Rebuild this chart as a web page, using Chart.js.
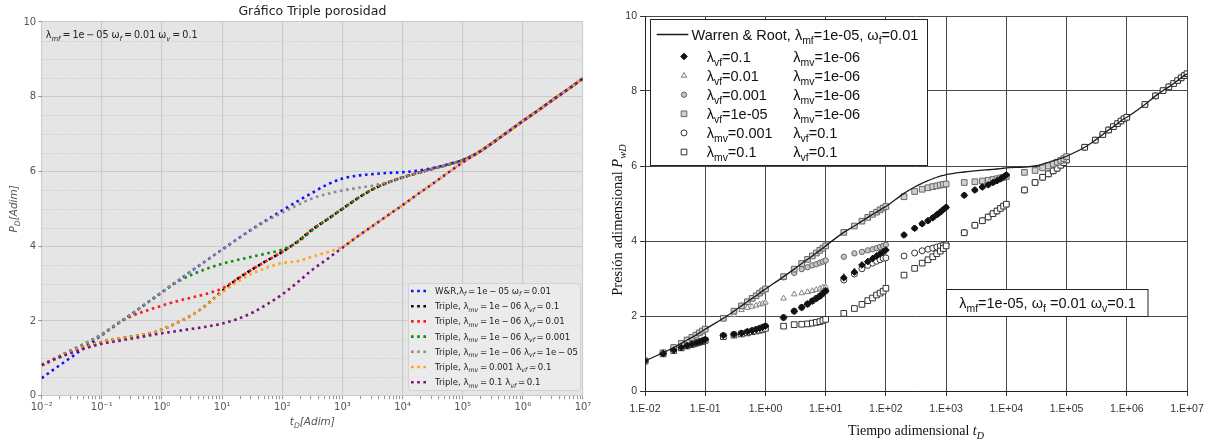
<!DOCTYPE html>
<html><head><meta charset="utf-8">
<script src="https://cdn.jsdelivr.net/npm/chart.js@4.4.1/dist/chart.umd.min.js"></script>
<style>
html,body{margin:0;padding:0;background:#fff;}
#wrap{position:relative;width:1213px;height:442px;overflow:hidden;background:#fff;}
#c1{position:absolute;left:0;top:0;width:600px;height:442px;}
#c2{position:absolute;left:600px;top:0;width:613px;height:442px;}
</style></head><body>
<div id="wrap"><canvas id="c1" width="600" height="442"></canvas><canvas id="c2" width="613" height="442"></canvas></div>
<script>
// ---------------- LEFT CHART DATA (t_D, P_D) ----------------
const leftTitle = 'Gráfico Triple porosidad';
const leftNote = 'λ_{mf}\u2009=\u20091e\u2009−\u200905 ω_{f}\u2009=\u20090.01 ω_{v}\u2009=\u20090.1';
const leftT = [0.01,0.0178,0.0316,0.0562,0.1,0.178,0.316,0.562,1,1.78,3.16,5.62,10,17.8,31.6,56.2,100,178,316,562,1000,1780,3160,5620,1e4,1.78e4,3.16e4,5.62e4,1e5,1.78e5,3.16e5,5.62e5,1e6,1.78e6,3.16e6,5.62e6,1e7];
const leftLabels = [
  'W&R,λ_{f}\u2009=\u20091e\u2009−\u200905 ω_{f}\u2009=\u20090.01',
  'Triple, λ_{mv}\u2009=\u20091e\u2009−\u200906 λ_{vf}\u2009=\u20090.1',
  'Triple, λ_{mv}\u2009=\u20091e\u2009−\u200906 λ_{vf}\u2009=\u20090.01',
  'Triple, λ_{mv}\u2009=\u20091e\u2009−\u200906 λ_{vf}\u2009=\u20090.001',
  'Triple, λ_{mv}\u2009=\u20091e\u2009−\u200906 λ_{vf}\u2009=\u20091e\u2009−\u200905',
  'Triple, λ_{mv}\u2009=\u20090.001 λ_{vf}\u2009=\u20090.1',
  'Triple, λ_{mv}\u2009=\u20090.1 λ_{vf}\u2009=\u20090.1'
];
const leftColors = ['#1010ff','#000000','#ff1a1a','#138a13','#8c8c8c','#ffa31a','#7d137d'];
const leftWR      = [0.47,0.76,1.04,1.33,1.62,1.91,2.19,2.48,2.77,3.06,3.35,3.63,3.91,4.19,4.46,4.71,4.96,5.20,5.43,5.65,5.81,5.89,5.93,5.96,5.98,6.02,6.09,6.19,6.31,6.50,6.77,7.06,7.35,7.63,7.92,8.20,8.49];
const leftMv6Vf01   = [0.82,1.00,1.17,1.32,1.44,1.52,1.58,1.65,1.77,1.95,2.16,2.44,2.80,3.12,3.38,3.62,3.85,4.12,4.45,4.72,5.00,5.28,5.52,5.70,5.84,5.96,6.07,6.18,6.30,6.50,6.77,7.06,7.35,7.63,7.92,8.20,8.49];
const leftMv6Vf001  = [0.82,1.02,1.22,1.42,1.64,1.92,2.13,2.28,2.41,2.53,2.63,2.73,2.87,3.12,3.38,3.62,3.85,4.12,4.45,4.72,5.00,5.28,5.52,5.70,5.84,5.96,6.07,6.18,6.30,6.50,6.77,7.06,7.35,7.63,7.92,8.20,8.49];
const leftMv6Vf0001 = [0.82,1.02,1.22,1.42,1.64,1.92,2.19,2.48,2.77,3.04,3.24,3.40,3.53,3.63,3.72,3.81,3.91,4.10,4.43,4.72,5.00,5.28,5.52,5.70,5.84,5.96,6.07,6.18,6.30,6.50,6.77,7.06,7.35,7.63,7.92,8.20,8.49];
const leftMv6Vf1e5  = [0.82,1.02,1.22,1.42,1.64,1.92,2.19,2.48,2.77,3.06,3.35,3.63,3.91,4.19,4.45,4.69,4.90,5.10,5.28,5.40,5.49,5.56,5.62,5.71,5.84,5.96,6.07,6.18,6.30,6.50,6.77,7.06,7.35,7.63,7.92,8.20,8.49];
const leftMv0001Vf01= [0.82,1.00,1.17,1.32,1.44,1.52,1.58,1.65,1.77,1.95,2.16,2.44,2.76,3.04,3.27,3.43,3.55,3.60,3.72,3.84,3.98,4.26,4.54,4.82,5.10,5.39,5.67,5.96,6.24,6.50,6.77,7.06,7.35,7.63,7.92,8.20,8.49];
const leftMv01Vf01  = [0.82,1.00,1.15,1.28,1.39,1.46,1.53,1.60,1.67,1.73,1.79,1.85,1.93,2.05,2.22,2.45,2.71,3.03,3.37,3.66,3.96,4.26,4.54,4.82,5.10,5.39,5.67,5.96,6.24,6.50,6.77,7.06,7.35,7.63,7.92,8.20,8.49];
const leftSeries = [leftWR,leftMv6Vf01,leftMv6Vf001,leftMv6Vf0001,leftMv6Vf1e5,leftMv0001Vf01,leftMv01Vf01];
const leftYTicks = [0,2,4,6,8,10];

// ---------------- RIGHT CHART DATA (t_D, P_wD) ----------------
const rightT = [0.01,0.02,0.03,0.04,0.05,0.06,0.07,0.08,0.09,
  0.1,0.2,0.3,0.4,0.5,0.6,0.7,0.8,0.9,
  1,2,3,4,5,6,7,8,9,
  10,20,30,40,50,60,70,80,90,
  100,200,300,400,500,600,700,800,900,
  1e3,2e3,3e3,4e3,5e3,6e3,7e3,8e3,9e3,
  1e4,2e4,3e4,4e4,5e4,6e4,7e4,8e4,9e4,
  1e5,2e5,3e5,4e5,5e5,6e5,7e5,8e5,9e5,
  1e6,2e6,3e6,4e6,5e6,6e6,7e6,8e6,9e6,
  1e7];
const rightWR = [0.80,1.02,1.16,1.27,1.36,1.43,1.49,1.55,1.60,
  1.65,1.94,2.13,2.27,2.38,2.47,2.54,2.61,2.67,
  2.72,3.05,3.25,3.40,3.51,3.60,3.68,3.75,3.81,
  3.87,4.23,4.40,4.53,4.63,4.71,4.77,4.83,4.88,
  4.92,5.27,5.44,5.54,5.61,5.66,5.70,5.73,5.75,
  5.77,5.84,5.87,5.89,5.90,5.91,5.92,5.93,5.94,
  5.95,5.97,6.00,6.05,6.10,6.14,6.17,6.20,6.23,
  6.26,6.50,6.69,6.84,6.96,7.05,7.13,7.20,7.26,
  7.30,7.64,7.87,8.01,8.11,8.20,8.28,8.35,8.41,
  8.46];
const rightVf01 = [0.80,1.00,1.09,1.16,1.21,1.25,1.28,1.31,1.34,
  1.37,1.48,1.51,1.54,1.58,1.61,1.64,1.67,1.70,
  1.73,1.96,2.13,2.23,2.32,2.40,2.47,2.53,2.60,
  2.67,3.02,3.17,3.36,3.45,3.53,3.60,3.66,3.71,
  3.76,4.16,4.34,4.46,4.54,4.62,4.70,4.77,4.84,
  4.90,5.22,5.36,5.44,5.50,5.56,5.61,5.66,5.71,
  5.76,null,null,null,null,null,null,null,null,
  null,null,null,null,null,null,null,null,null,
  null,null,null,null,null,null,null,null,null,
  null];
const rightVf001 = [0.80,1.02,1.16,1.27,1.36,1.43,1.49,1.55,1.60,
  1.65,1.94,2.03,2.16,2.22,2.25,2.28,2.31,2.33,
  2.36,2.47,2.58,2.61,2.64,2.67,2.70,2.73,2.76,
  2.78,3.05,3.20,3.36,3.46,3.54,3.61,3.67,3.72,
  3.77,4.16,4.34,4.46,4.54,4.62,4.70,4.77,4.84,
  4.90,5.22,5.36,5.44,5.50,5.56,5.61,5.66,5.71,
  5.76,null,null,null,null,null,null,null,null,
  null,null,null,null,null,null,null,null,null,
  null,null,null,null,null,null,null,null,null,
  null];
const rightVf0001 = [0.80,1.02,1.16,1.27,1.36,1.43,1.49,1.55,1.60,
  1.65,1.94,2.13,2.27,2.38,2.47,2.54,2.61,2.67,
  2.72,3.03,3.15,3.25,3.30,3.35,3.38,3.42,3.45,
  3.48,3.58,3.67,3.71,3.75,3.78,3.81,3.84,3.87,
  3.90,4.16,4.34,4.46,4.54,4.62,4.70,4.77,4.84,
  4.90,5.22,5.36,5.44,5.50,5.56,5.61,5.66,5.71,
  5.76,null,null,null,null,null,null,null,null,
  null,null,null,null,null,null,null,null,null,
  null,null,null,null,null,null,null,null,null,
  null];
const rightVf1e5 = [0.80,1.02,1.16,1.27,1.36,1.43,1.49,1.55,1.60,
  1.65,1.94,2.13,2.27,2.38,2.47,2.54,2.61,2.67,
  2.72,3.05,3.25,3.40,3.51,3.60,3.68,3.75,3.81,
  3.87,4.23,4.40,4.53,4.63,4.71,4.77,4.83,4.88,
  4.92,5.18,5.32,5.38,5.42,5.45,5.47,5.49,5.51,
  5.52,5.56,5.58,5.60,5.62,5.64,5.66,5.68,5.70,
  5.72,5.83,5.88,5.95,6.00,6.05,6.10,6.15,6.20,
  6.25,null,null,null,null,null,null,null,null,
  null,null,null,null,null,null,null,null,null,
  null];
const rightMv0001 = [0.80,1.00,1.09,1.16,1.21,1.25,1.28,1.31,1.34,
  1.37,1.48,1.51,1.54,1.58,1.61,1.64,1.67,1.70,
  1.73,1.96,2.13,2.23,2.32,2.40,2.47,2.53,2.60,
  2.67,2.96,3.12,3.26,3.35,3.41,3.46,3.50,3.54,
  3.55,3.60,3.68,3.74,3.78,3.81,3.84,3.87,3.89,
  3.91,4.22,4.42,4.54,4.64,4.73,4.80,4.87,4.93,
  4.98,5.36,5.56,5.70,5.79,5.87,5.94,6.02,6.09,
  6.16,6.50,6.69,6.84,6.96,7.05,7.13,7.20,7.26,
  7.30,7.64,7.87,8.01,8.11,8.20,8.28,8.35,8.41,
  8.46];
const rightMv01 = [0.80,0.99,1.08,1.15,1.20,1.24,1.27,1.30,1.32,
  1.35,1.45,1.49,1.52,1.55,1.58,1.60,1.62,1.64,
  1.67,1.73,1.77,1.78,1.79,1.81,1.83,1.85,1.88,
  1.91,2.07,2.20,2.31,2.41,2.48,2.56,2.61,2.66,
  2.74,3.09,3.27,3.41,3.50,3.58,3.66,3.73,3.80,
  3.87,4.22,4.42,4.54,4.64,4.73,4.80,4.87,4.93,
  4.98,5.36,5.56,5.70,5.79,5.87,5.94,6.02,6.09,
  6.16,6.50,6.69,6.84,6.96,7.05,7.13,7.20,7.26,
  7.30,7.64,7.87,8.01,8.11,8.20,8.28,8.35,8.41,
  8.46];
const rightLineLabel = 'Warren & Root, λ_{mf}=1e-05, ω_{f}=0.01';
const rightMarkerLabels = [
  ['λ_{vf}=0.1','λ_{mv}=1e-06'],
  ['λ_{vf}=0.01','λ_{mv}=1e-06'],
  ['λ_{vf}=0.001','λ_{mv}=1e-06'],
  ['λ_{vf}=1e-05','λ_{mv}=1e-06'],
  ['λ_{mv}=0.001','λ_{vf}=0.1'],
  ['λ_{mv}=0.1','λ_{vf}=0.1']
];
const rightMarkerSeries = [rightVf01,rightVf001,rightVf0001,rightVf1e5,rightMv0001,rightMv01];
const rightMarkerOrder = [1,6,5,2,4,3];
const rightNote = 'λ_{mf}=1e-05, ω_{f} =0.01 ω_{v}=0.1';
const rightYTitle = 'Presión adimensional ~{P}_{wD}';
const rightXTitle = 'Tiempo adimensional ~{t}_{D}';
const rightYTicks = [0,2,4,6,8,10];

// ---------------- helpers ----------------
const SUP = {'-':'⁻','0':'⁰','1':'¹','2':'²','3':'³','4':'⁴','5':'⁵','6':'⁶','7':'⁷','8':'⁸','9':'⁹'};
function isDecade(v){ const l = Math.log10(v); return Math.abs(l - Math.round(l)) < 1e-6; }
function logTicks(withMinor){
  const t = [];
  for (let e = -2; e <= 7; e++) for (let m = 1; m <= 9; m++) {
    if (!withMinor && m > 1) break;
    if (e === 7 && m > 1) break;
    t.push({value: parseFloat((m * Math.pow(10, e)).toPrecision(6))});
  }
  return t;
}
function pts(T, V){ return T.map((t, i) => ({x: t, y: V[i]})); }
function parseRich(str){
  const out = []; const re = /(_\{[^}]*\}|~\{[^}]*\})/g; let last = 0, m;
  while ((m = re.exec(str)) !== null) {
    if (m.index > last) out.push({t: str.slice(last, m.index)});
    const inner = m[0].slice(2, -1);
    out.push(m[0][0] === '_' ? {t: inner, sub: true} : {t: inner, it: true});
    last = re.lastIndex;
  }
  if (last < str.length) out.push({t: str.slice(last)});
  return out;
}
function fnt(o, p){
  const s = p.sub ? o.size * 0.72 : o.size;
  const it = o.italic || p.it || (p.sub && o.subItalic);
  return (it ? 'italic ' : '') + (o.weight || 'normal') + ' ' + s.toFixed(2) + 'px ' + o.family;
}
function drawRich(ctx, str, x, y, o){
  const parts = parseRich(str); let w = 0;
  for (const p of parts) { ctx.font = fnt(o, p); w += ctx.measureText(p.t).width; }
  ctx.save(); ctx.translate(x, y); if (o.rotate) ctx.rotate(o.rotate);
  ctx.fillStyle = o.color || '#000'; ctx.textAlign = 'left'; ctx.textBaseline = 'alphabetic';
  let cx = o.align === 'center' ? -w / 2 : 0; const base = o.size * 0.36;
  for (const p of parts) {
    ctx.font = fnt(o, p);
    ctx.fillText(p.t, cx, base + (p.sub ? o.size * 0.27 : 0));
    cx += ctx.measureText(p.t).width;
  }
  ctx.restore(); return w;
}
const DV = "'DejaVu Sans', 'Liberation Sans', sans-serif";
const LS = "'Liberation Sans', Arial, sans-serif";
const SERIF = "'Liberation Serif', 'DejaVu Serif', serif";

// ---------------- LEFT CHART ----------------
const leftDeco = {
  id: 'leftDeco',
  beforeDraw(chart){
    const {ctx, chartArea: a} = chart;
    ctx.save(); ctx.fillStyle = '#e5e5e5'; ctx.fillRect(a.left, a.top, a.right - a.left, a.bottom - a.top); ctx.restore();
  },
  beforeDatasetsDraw(chart){
    const {ctx, chartArea: a, scales: {y}} = chart;
    ctx.save(); ctx.strokeStyle = '#cfcfcf'; ctx.lineWidth = 0.9; ctx.setLineDash([3, 2]);
    for (let v = 0.5; v < 10; v += 0.5) {
      if (Math.abs(v % 2) < 1e-9) continue;
      const py = Math.round(y.getPixelForValue(v)) + 0.5;
      ctx.beginPath(); ctx.moveTo(a.left, py); ctx.lineTo(a.right, py); ctx.stroke();
    }
    ctx.restore();
  },
  afterDatasetsDraw(chart){
    const {ctx, chartArea: a} = chart;
    drawRich(ctx, leftNote, a.left + 4, a.top + 12.5, {size: 9.6, family: DV, color: '#222', subItalic: true});
    const bx = 408.5, by = 283.5, bw = 172, bh = 107;
    ctx.save();
    ctx.fillStyle = 'rgba(236,236,236,0.92)'; ctx.strokeStyle = '#d2d2d2'; ctx.lineWidth = 1;
    ctx.beginPath(); ctx.roundRect(bx, by, bw, bh, 3); ctx.fill(); ctx.stroke();
    chart.data.datasets.forEach((ds, i) => {
      const yy = 291 + i * 15.2;
      ctx.save(); ctx.strokeStyle = ds.borderColor; ctx.lineWidth = ds.borderWidth; ctx.setLineDash(ds.borderDash);
      ctx.beginPath(); ctx.moveTo(411, yy); ctx.lineTo(427, yy); ctx.stroke(); ctx.restore();
      drawRich(ctx, ds.label, 435, yy, {size: 8.6, family: DV, color: '#222', subItalic: true});
    });
    ctx.restore();
    drawRich(ctx, 't_{D}[Adim]', (a.left + a.right) / 2, 421, {size: 10.5, family: DV, color: '#555', italic: true, align: 'center'});
    drawRich(ctx, 'P_{D}[Adim]', 13, (a.top + a.bottom) / 2, {size: 10.5, family: DV, color: '#555', italic: true, align: 'center', rotate: -Math.PI / 2});
  }
};

new Chart(document.getElementById('c1'), {
  type: 'scatter',
  data: {
    datasets: leftSeries.map((vals, i) => ({
      label: leftLabels[i], data: pts(leftT, vals), showLine: true,
      borderColor: leftColors[i], backgroundColor: leftColors[i],
      borderWidth: 2.6, borderDash: [2.6, 3.6], borderCapStyle: 'butt',
      pointRadius: 0, pointHoverRadius: 0, cubicInterpolationMode: 'monotone', fill: false,
      order: 10 - i
    }))
  },
  options: {
    responsive: false, animation: false, devicePixelRatio: 1,
    layout: {padding: {top: 0, right: 17, bottom: 0, left: 0}},
    plugins: {
      legend: {display: false}, tooltip: {enabled: false},
      title: {display: true, text: leftTitle, fullSize: false, color: '#222',
        font: {family: DV, size: 12.5, weight: 'normal'}, padding: {top: 4, bottom: 3}}
    },
    scales: {
      x: {
        type: 'logarithmic', min: 0.01, max: 1e7,
        afterBuildTicks: s => { s.ticks = logTicks(true); },
        afterFit: s => { s.height = 46.3; },
        border: {display: false},
        grid: {color: c => isDecade(c.tick.value) ? '#cbcbcb' : 'rgba(0,0,0,0)', lineWidth: 1.1,
               tickColor: '#777', tickLength: 3.5, tickWidth: 0.8},
        ticks: {autoSkip: false, maxRotation: 0, minRotation: 0, padding: 2, color: '#555',
                font: {family: DV, size: 10},
                callback: v => isDecade(v) ? '10' + String(Math.round(Math.log10(v))).split('').map(c => SUP[c]).join('') : ''}
      },
      y: {
        min: 0, max: 10,
        afterBuildTicks: s => { s.ticks = leftYTicks.map(v => ({value: v})); },
        afterFit: s => { s.width = 41.7; },
        border: {display: false},
        grid: {color: '#cbcbcb', lineWidth: 1.1, tickColor: '#777', tickLength: 3.5, tickWidth: 0.8},
        ticks: {padding: 2, color: '#555', font: {family: DV, size: 10}, callback: v => String(v)}
      }
    }
  },
  plugins: [leftDeco]
});

// ---------------- RIGHT CHART ----------------
const markerStyles = [
  {pointStyle: 'rectRot', pointRadius: 3.3, pointBackgroundColor: '#111', pointBorderColor: '#111', pointBorderWidth: 1},
  {pointStyle: 'triangle', pointRadius: 3.2, pointBackgroundColor: 'rgba(255,255,255,0.7)', pointBorderColor: '#808080', pointBorderWidth: 1},
  {pointStyle: 'circle', pointRadius: 2.7, pointBackgroundColor: '#c4c4c4', pointBorderColor: '#666', pointBorderWidth: 1},
  {pointStyle: 'rect', pointRadius: 4, pointBackgroundColor: '#d0d0d0', pointBorderColor: '#666', pointBorderWidth: 1},
  {pointStyle: 'circle', pointRadius: 3, pointBackgroundColor: '#fff', pointBorderColor: '#333', pointBorderWidth: 1},
  {pointStyle: 'rect', pointRadius: 4, pointBackgroundColor: '#fff', pointBorderColor: '#333', pointBorderWidth: 1}
];
const rightDeco = {
  id: 'rightDeco',
  afterDraw(chart){
    const {ctx, chartArea: a} = chart;
    const lx = a.left + 5.5, ly = a.top + 3.5, lw = 277, lh = 146;
    ctx.save();
    ctx.fillStyle = '#fff'; ctx.strokeStyle = '#222'; ctx.lineWidth = 1;
    ctx.fillRect(lx, ly, lw, lh); ctx.strokeRect(lx, ly, lw, lh);
    const ds0 = chart.data.datasets[0];
    ctx.strokeStyle = ds0.borderColor; ctx.lineWidth = 1.4;
    ctx.beginPath(); ctx.moveTo(56.7, 34.5); ctx.lineTo(88.3, 34.5); ctx.stroke();
    drawRich(ctx, ds0.label, 91.5, 34.5, {size: 14.5, family: LS, color: '#111'});
    for (let i = 1; i < chart.data.datasets.length; i++) {
      const ds = chart.data.datasets[i]; const yy = 56.5 + (i - 1) * 19.1;
      ctx.save();
      ctx.fillStyle = ds.pointBackgroundColor; ctx.strokeStyle = ds.pointBorderColor; ctx.lineWidth = ds.pointBorderWidth;
      Chart.helpers.drawPoint(ctx, {pointStyle: ds.pointStyle, radius: ds.pointRadius, rotation: 0, borderWidth: ds.pointBorderWidth}, 84, yy);
      ctx.restore();
      const parts = ds.label.split('\t');
      drawRich(ctx, parts[0], 106.7, yy, {size: 14.5, family: LS, color: '#111'});
      drawRich(ctx, parts[1], 193.3, yy, {size: 14.5, family: LS, color: '#111'});
    }
    ctx.fillStyle = '#fff'; ctx.strokeStyle = '#222'; ctx.lineWidth = 1;
    ctx.fillRect(346.5, 289.5, 201.5, 27); ctx.strokeRect(346.5, 289.5, 201.5, 27);
    drawRich(ctx, rightNote, 447.5, 303, {size: 14.5, family: LS, color: '#111', align: 'center'});
    ctx.restore();
    drawRich(ctx, rightXTitle, (a.left + a.right) / 2, 430, {size: 14, family: SERIF, color: '#111', align: 'center', subItalic: true});
    drawRich(ctx, rightYTitle, 17, 220, {size: 14.5, family: SERIF, color: '#111', align: 'center', rotate: -Math.PI / 2, subItalic: true});
  }
};

new Chart(document.getElementById('c2'), {
  type: 'scatter',
  data: {
    datasets: [
      {label: rightLineLabel, data: pts(rightT, rightWR), showLine: true, borderColor: '#1a1a1a', borderWidth: 1.3,
       pointRadius: 0, pointHoverRadius: 0, cubicInterpolationMode: 'monotone', fill: false, order: 0}
    ].concat(rightMarkerSeries.map((vals, i) => Object.assign({
      label: rightMarkerLabels[i][0] + '\t' + rightMarkerLabels[i][1],
      data: pts(rightT, vals), showLine: false, order: rightMarkerOrder[i]
    }, markerStyles[i])))
  },
  options: {
    responsive: false, animation: false, devicePixelRatio: 1,
    layout: {padding: {top: 16, right: 26, bottom: 0, left: 0}},
    plugins: {legend: {display: false}, tooltip: {enabled: false}, title: {display: false}},
    scales: {
      x: {
        type: 'logarithmic', min: 0.01, max: 1e7,
        afterBuildTicks: s => { s.ticks = logTicks(false); },
        afterFit: s => { s.height = 51; },
        border: {display: true, color: '#222', width: 1},
        grid: {color: '#4a4a4a', lineWidth: 1, tickColor: '#333', tickLength: 5},
        ticks: {autoSkip: false, maxRotation: 0, minRotation: 0, padding: 7, color: '#333',
                font: {family: LS, size: 10.5},
                callback: v => { const e = Math.round(Math.log10(v)); return '1.E' + (e < 0 ? '-' : '+') + String(Math.abs(e)).padStart(2, '0'); }}
      },
      y: {
        min: 0, max: 10,
        afterBuildTicks: s => { s.ticks = rightYTicks.map(v => ({value: v})); },
        afterFit: s => { s.width = 45; },
        border: {display: true, color: '#222', width: 1},
        grid: {color: '#4a4a4a', lineWidth: 1, tickColor: '#333', tickLength: 5},
        ticks: {padding: 3, color: '#333', font: {family: LS, size: 10.5}, callback: v => String(v)}
      }
    }
  },
  plugins: [rightDeco]
});
</script>
</body></html>
